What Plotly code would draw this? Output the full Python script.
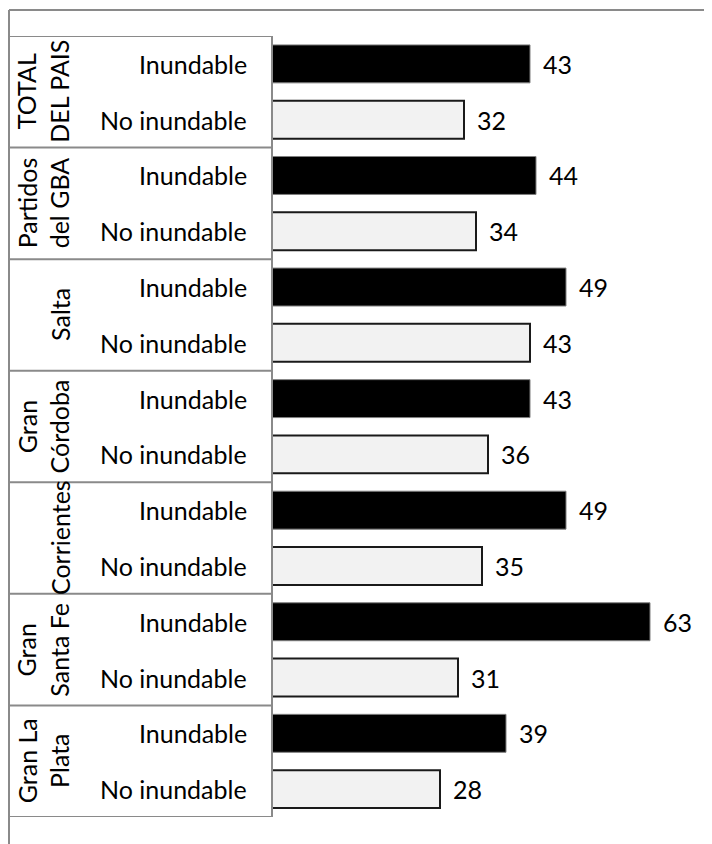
import plotly.graph_objects as go

groups = ["TOTAL<br>DEL PAIS", "Partidos<br>del GBA", "Salta", "Gran<br>Córdoba",
          "Corrientes", "Gran<br>Santa Fe", "Gran La<br>Plata"]
group_keys = ["TOTAL DEL PAIS", "Partidos del GBA", "Salta", "Gran Córdoba",
              "Corrientes", "Gran Santa Fe", "Gran La Plata"]
subcats = ["Inundable", "No inundable"]
inundable = [43, 44, 49, 43, 49, 63, 39]
no_inundable = [32, 34, 43, 36, 35, 31, 28]

FONT = "Lato"
FS = 25
GRAY = "#8a8a8a"

cats = []
for g in group_keys:
    for s in subcats:
        cats.append(g + " | " + s)
cat_inund = [g + " | Inundable" for g in group_keys]
cat_no = [g + " | No inundable" for g in group_keys]

fig = go.Figure()
fig.add_trace(go.Bar(
    y=cat_inund, x=inundable, orientation="h", width=0.68,
    marker=dict(color="#000000", line=dict(color="#7f7f7f", width=1)),
    showlegend=False, hoverinfo="skip"))
fig.add_trace(go.Bar(
    y=cat_no, x=no_inundable, orientation="h", width=0.68,
    marker=dict(color="#f2f2f2", line=dict(color="#1a1a1a", width=2)),
    showlegend=False, hoverinfo="skip"))

W, H = 704, 836
ML, MR, MT, MB = 264, 20, 28, 27
PW = W - ML - MR
PH = H - MT - MB

ann = []
# value labels
for c, v in list(zip(cat_inund, inundable)) + list(zip(cat_no, no_inundable)):
    ann.append(dict(x=v, y=c, xref="x", yref="y", text=str(v), showarrow=False,
                    xanchor="left", xshift=11, font=dict(family=FONT, size=FS, color="#000")))
# sub labels
for c in cats:
    ann.append(dict(x=0, y=c, xref="paper", yref="y", text=c.split(" | ")[1], showarrow=False,
                    xanchor="right", xshift=-23, font=dict(family=FONT, size=FS, color="#000")))
# group labels
for i, g in enumerate(groups):
    two = "<br>" in g
    cx = 35 if two else 52
    ann.append(dict(x=0, y=2 * i + 0.5, xref="paper", yref="y", text=g, showarrow=False,
                    textangle=-90, xanchor="center", yanchor="middle", xshift=cx - ML,
                    align="center", font=dict(family=FONT, size=FS, color="#000")))

shapes = []
x_left = (1 - ML) / PW
for k in range(len(groups) + 1):
    yk = 2 * k - 0.5
    shapes.append(dict(type="line", xref="paper", yref="y", x0=x_left, x1=0, y0=yk, y1=yk,
                       line=dict(color=GRAY, width=2)))
shapes.append(dict(type="line", xref="paper", yref="y", x0=0, x1=0, y0=-0.5, y1=len(cats) - 0.5,
                   line=dict(color=GRAY, width=2)))
# outer frame
top_y = (H - MB - 2) / PH
shapes.append(dict(type="line", xref="paper", yref="paper", x0=x_left, x1=1.2, y0=top_y, y1=top_y,
                   line=dict(color=GRAY, width=2)))
shapes.append(dict(type="line", xref="paper", yref="paper", x0=x_left, x1=x_left, y0=top_y, y1=-0.2,
                   line=dict(color=GRAY, width=2)))

fig.update_layout(
    width=W, height=H,
    margin=dict(l=ML, r=MR, t=MT, b=MB),
    plot_bgcolor="white", paper_bgcolor="white",
    barmode="overlay",
    xaxis=dict(range=[0, 70], visible=False, fixedrange=True),
    yaxis=dict(type="category", categoryorder="array", categoryarray=cats,
               range=[len(cats) - 0.5, -0.5], showticklabels=False, showgrid=False,
               zeroline=False, ticks="", fixedrange=True),
    annotations=ann, shapes=shapes,
    font=dict(family=FONT, size=FS),
)

fig.write_html("out.html")
